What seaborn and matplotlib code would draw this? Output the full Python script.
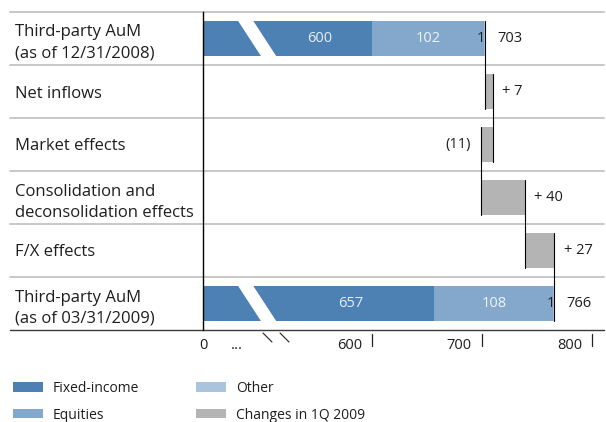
import matplotlib
matplotlib.use("Agg")
import matplotlib.pyplot as plt
import matplotlib.transforms as mtransforms
from matplotlib.patches import Patch, Polygon
import seaborn as sns

# === Data ===
categories = ["Third-party AuM\n(as of 12/31/2008)", "Net inflows", "Market effects",
              "Consolidation and\ndeconsolidation effects", "F/X effects",
              "Third-party AuM\n(as of 03/31/2009)"]
total_rows = [categories[0], categories[5]]
fixed_income = [600, 657]
equities = [102, 108]
other = [1, 1]
changes = [7, -11, 40, 27]
tick_values = [600, 700, 800]
legend_labels = ["Fixed-income", "Equities", "Other", "Changes in 1Q 2009"]

c_fixed = "#4d80b3"
c_equity = "#84a8cb"
c_other = "#abc4de"
c_change = "#b4b4b4"
c_text = "#1e1e1e"

sns.set_theme(style="white")
plt.rcParams["font.family"] = ["Open Sans", "DejaVu Sans"]
plt.rcParams["text.color"] = c_text

fig = plt.figure(figsize=(6.06, 4.22), dpi=100)
W, H = 606, 422
ax_l, ax_r, ax_t, ax_b = 203, 604, 12, 330
ax = fig.add_axes([ax_l / W, 1 - ax_b / H, (ax_r - ax_l) / W, (ax_b - ax_t) / H])
ax_w, ax_h = ax_r - ax_l, ax_b - ax_t

totals = [f + e + o for f, e, o in zip(fixed_income, equities, other)]
fi_eq = [f + e for f, e in zip(fixed_income, equities)]
bar_h = 0.66

# stacked totals, drawn from the longest segment down
sns.barplot(x=totals, y=total_rows, order=categories, orient="h", color=c_other,
            saturation=1, width=bar_h, linewidth=0, errorbar=None, ax=ax)
sns.barplot(x=fi_eq, y=total_rows, order=categories, orient="h", color=c_equity,
            saturation=1, width=bar_h, linewidth=0, errorbar=None, ax=ax)
sns.barplot(x=fixed_income, y=total_rows, order=categories, orient="h", color=c_fixed,
            saturation=1, width=bar_h, linewidth=0, errorbar=None, ax=ax)

# waterfall of the changes
levels = [totals[0]]
running = totals[0]
for i, ch in enumerate(changes):
    ax.barh(i + 1, ch, left=running, height=bar_h, color=c_change, linewidth=0)
    running += ch
    levels.append(running)

# connector lines
for k, lv in enumerate(levels):
    ax.plot([lv, lv], [k - bar_h / 2, k + 1 + bar_h / 2], color="black", lw=0.8, zorder=4)

# broken axis: 0 sits at the left edge, 600 at 371.7 px
x_left = 600 - (371.7 - ax_l) / 1.1
x_right = 600 + (ax_r - 371.7) / 1.1
ax.set_xlim(x_left, x_right)
ax.set_ylim(5.5, -0.5)

trans = mtransforms.blended_transform_factory(ax.transAxes, ax.transData)
for r in [0, 5]:
    ax.add_patch(Polygon([(0.085, r - 0.36), (0.123, r - 0.36), (0.185, r + 0.36), (0.147, r + 0.36)],
                         closed=True, transform=trans, facecolor="white", edgecolor="none", zorder=5))

# row separators and base line
for y in [-0.5, 0.5, 1.5, 2.5, 3.5, 4.5]:
    ax.plot([-193 / ax_w, 1.0], [y, y], transform=trans, color="#c4c4c4", lw=1.3,
            clip_on=False, zorder=1)
ax.plot([-193 / ax_w, 1.0], [5.5, 5.5], transform=trans, color="#3a3a3a", lw=1.0,
        clip_on=False, zorder=6)

for s in ["top", "right", "bottom"]:
    ax.spines[s].set_visible(False)
ax.spines["left"].set_color("black")
ax.spines["left"].set_linewidth(1.0)
ax.spines["left"].set_zorder(6)

# category labels at the far left
ax.set_yticks(range(len(categories)))
ax.set_yticklabels(categories, fontsize=12, color=c_text)
ax.tick_params(axis="y", length=0, pad=(ax_l - 15) * 0.72)
for lab in ax.get_yticklabels():
    lab.set_horizontalalignment("left")
    lab.set_linespacing(1.45)
ax.set_ylabel("")
ax.set_xlabel("")
ax.set_xticks([])

# x axis labels
base_y = -(349 - ax_b) / ax_h
ax.text(0, base_y, "0", transform=ax.transAxes, ha="center", va="baseline", fontsize=10.5)
ax.text(34 / ax_w, base_y, "...", transform=ax.transAxes, ha="center", va="baseline", fontsize=10.5)
for x0 in [60, 77]:
    ax.plot([x0 / ax_w, (x0 + 9) / ax_w], [-3 / ax_h, -12 / ax_h], transform=ax.transAxes,
            color="#222222", lw=0.8, clip_on=False)
tick_trans = mtransforms.blended_transform_factory(ax.transData, ax.transAxes)
for v in tick_values:
    ax.plot([v, v], [-4 / ax_h, -16 / ax_h], transform=tick_trans, color="#222222", lw=0.9,
            clip_on=False)
    ax.annotate(str(v), xy=(v, base_y), xycoords=tick_trans, xytext=(-7, 0),
                textcoords="offset points", ha="right", va="baseline", fontsize=10.5)

# value labels in and beside the bars
break_val = x_left + 0.16 * (x_right - x_left)
for r, f, e, o, t in zip([0, 5], fixed_income, equities, other, totals):
    ax.text((break_val + f) / 2, r, str(f), ha="center", va="center", fontsize=10.5,
            color="#e8eef6", zorder=6)
    ax.text(f + e / 2, r, str(e), ha="center", va="center", fontsize=10.5,
            color="#eef3f8", zorder=6)
    ax.annotate(str(o), xy=(f + e, r), xytext=(1, 0), textcoords="offset points",
                ha="right", va="center", fontsize=10.5)
    ax.annotate(str(t), xy=(t, r), xytext=(9, 0), textcoords="offset points",
                ha="left", va="center", fontsize=10.5)

for i, ch in enumerate(changes):
    lo, hi = sorted([levels[i], levels[i + 1]])
    if ch >= 0:
        ax.annotate(f"+ {ch}", xy=(hi, i + 1), xytext=(7, 0), textcoords="offset points",
                    ha="left", va="center", fontsize=10.5)
    else:
        ax.annotate(f"({-ch})", xy=(lo, i + 1), xytext=(-7, 0), textcoords="offset points",
                    ha="right", va="center", fontsize=10.5)

# legend
handles = [Patch(facecolor=c, edgecolor="none") for c in [c_fixed, c_equity, c_other, c_change]]
fig.legend(handles, legend_labels, ncol=2, loc="upper left", bbox_to_anchor=(13 / W, 1 - 381 / H),
           frameon=False, fontsize=10, handlelength=2.16, handleheight=0.65,
           handletextpad=0.72, columnspacing=4.1, labelspacing=0.84, borderpad=0, borderaxespad=0)

plt.savefig("out.png", dpi=100)
